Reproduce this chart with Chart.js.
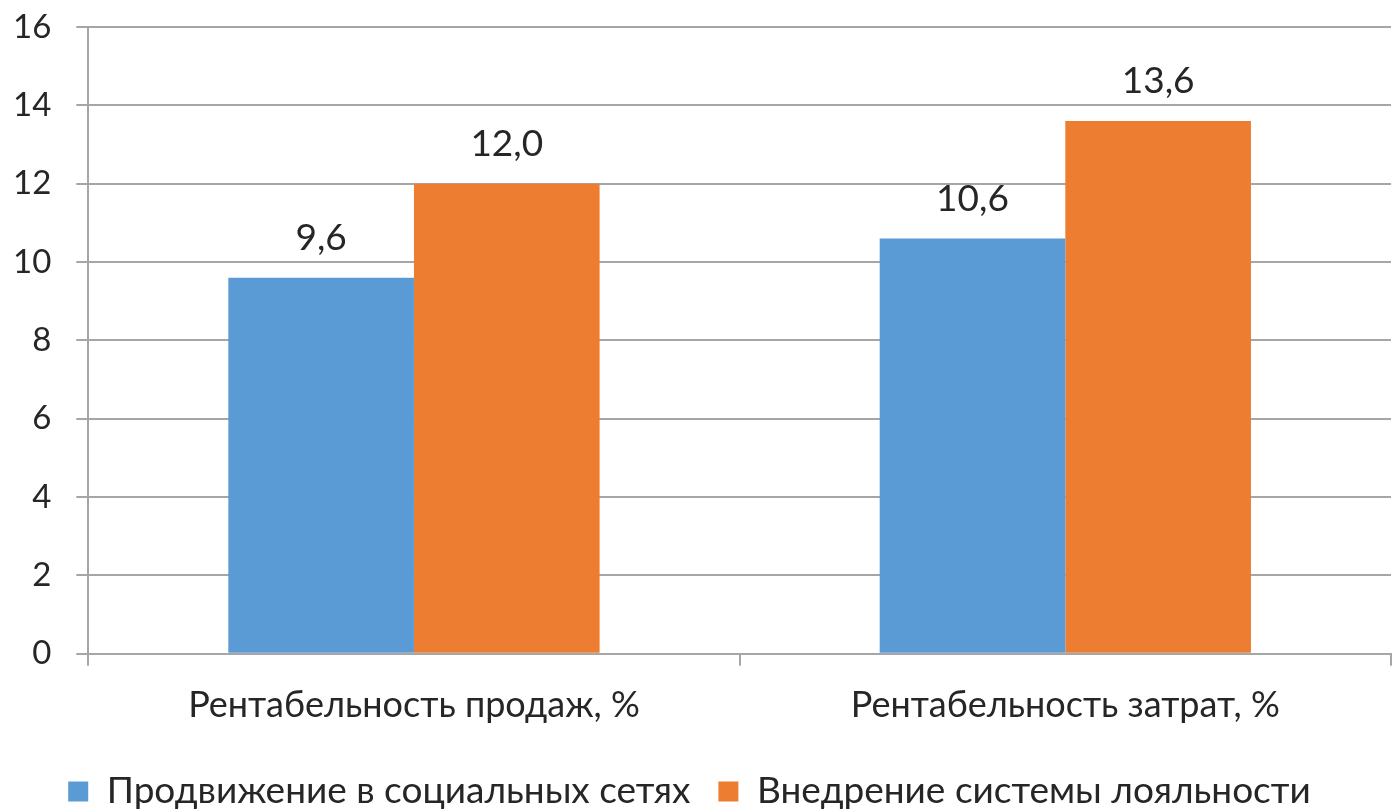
<!DOCTYPE html>
<html>
<head>
<meta charset="utf-8">
<script src="https://cdn.jsdelivr.net/npm/chart.js@4/dist/chart.umd.min.js"></script>
<style>
  html, body { margin: 0; padding: 0; background: #fff; }
  #wrap { width: 1397px; height: 810px; }
</style>
</head>
<body>
<div id="wrap"><canvas id="chart"></canvas></div>
<script>
// chart data
const categories = ['Рентабельность продаж, %', 'Рентабельность затрат, %'];
const seriesNames = ['Продвижение в социальных сетях', 'Внедрение системы лояльности'];
const socialValues = [9.6, 10.6];
const loyaltyValues = [12.0, 13.6];
const yTicks = [0, 2, 4, 6, 8, 10, 12, 14, 16];

const FONT = 'Lato, "Open Sans", sans-serif';

// draws value labels above each bar, like Excel data labels
const valueLabels = {
    id: 'valueLabels',
    afterDatasetsDraw(chart) {
        const ctx = chart.ctx;
        ctx.save();
        ctx.font = '37px ' + FONT;
        ctx.fillStyle = '#262626';
        ctx.textAlign = 'center';
        ctx.textBaseline = 'bottom';
        chart.data.datasets.forEach((ds, i) => {
            chart.getDatasetMeta(i).data.forEach((bar, j) => {
                const text = ds.data[j].toFixed(1).replace('.', ',');
                ctx.fillText(text, bar.x, bar.y - 21);
            });
        });
        ctx.restore();
    }
};

new Chart(document.getElementById('chart'), {
    type: 'bar',
    data: {
        labels: categories,
        datasets: [{
            label: seriesNames[0],
            data: socialValues,
            backgroundColor: '#5b9bd5'
        }, {
            label: seriesNames[1],
            data: loyaltyValues,
            backgroundColor: '#ed7d31'
        }]
    },
    options: {
        responsive: true,
        maintainAspectRatio: false,
        animation: false,
        layout: {
            autoPadding: false,
            padding: { left: -12, right: 6, top: 27, bottom: -10 }
        },
        datasets: {
            bar: { categoryPercentage: 0.57, barPercentage: 1.0 }
        },
        plugins: {
            legend: {
                position: 'bottom',
                labels: {
                    font: { family: FONT, size: 37 },
                    color: '#262626',
                    boxWidth: 20,
                    boxHeight: 20,
                    padding: 28
                }
            },
            tooltip: { enabled: false }
        },
        scales: {
            x: {
                grid: {
                    offset: true,
                    drawOnChartArea: false,
                    color: '#a6a6a6',
                    lineWidth: 2,
                    tickLength: 12
                },
                border: { color: '#a6a6a6', width: 2 },
                ticks: {
                    font: { family: FONT, size: 36 },
                    color: '#262626',
                    padding: 18
                }
            },
            y: {
                min: 0,
                max: 16,
                afterBuildTicks(scale) {
                    scale.ticks = yTicks.map(v => ({ value: v }));
                },
                grid: {
                    color: '#a6a6a6',
                    lineWidth: 2,
                    tickLength: 12
                },
                border: { color: '#a6a6a6', width: 2 },
                ticks: {
                    // small lineHeight so the top label does not push the plot down
                    font: { family: FONT, size: 33, lineHeight: 0.1 },
                    color: '#262626',
                    padding: 25
                }
            }
        }
    },
    plugins: [valueLabels]
});
</script>
</body>
</html>
